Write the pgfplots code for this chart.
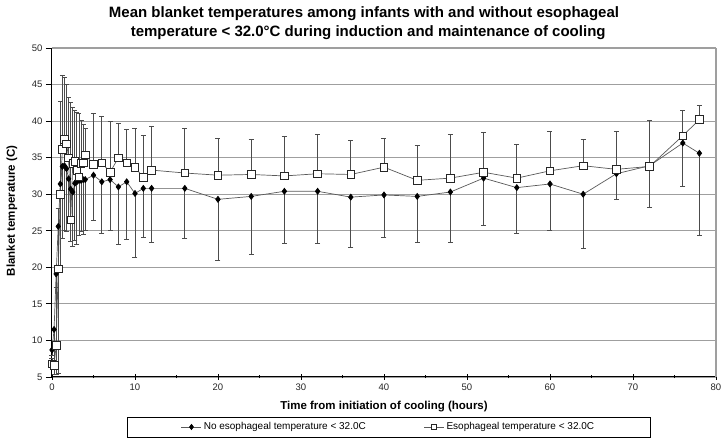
\documentclass[border=0pt]{standalone}
\usepackage{pgfplots}
\pgfplotsset{compat=1.18}
\usepackage{pgfplotstable}
\usepackage{fontspec}
\setmainfont{Liberation Sans}

% No esophageal temperature < 32.0C : mean and minus error
\pgfplotstableread{
t m e
0 8.7 0.7
0.25 11.5 6.2
0.5 19.1 13.8
0.75 25.6 20.1
1 31.4 11.9
1.25 33.8 9.8
1.5 33.9 8.9
1.75 33.5 8.6
2 32.1 6.1
2.25 30.7 7.2
2.5 30.3 7.4
2.75 31.5 7.8
3 31.7 8.5
3.25 31.9 7.6
3.5 31.9 7.0
3.75 32.0 7.5
4 32.0 7.0
5 32.6 6.2
6 31.7 7.1
7 32.0 7.0
8 31.0 7.9
9 31.7 7.9
10 30.1 8.7
11 30.8 6.7
12 30.8 7.4
16 30.8 6.8
20 29.3 8.4
24 29.7 7.9
28 30.4 7.1
32 30.4 7.1
36 29.6 6.9
40 29.9 5.8
44 29.7 6.3
48 30.3 6.9
52 32.2 6.4
56 30.9 6.3
60 31.4 6.3
64 30.0 7.4
68 32.8 3.5
72 33.9 5.7
76 37.0 5.9
78 35.6 11.2
}\noeso

% Esophageal temperature < 32.0C : mean and plus error
\pgfplotstableread{
t m e
0 6.8 0.7
0.25 6.6 2.4
0.5 9.3 8.0
0.75 19.8 8.2
1 30.0 12.7
1.25 36.1 10.2
1.5 37.5 8.5
1.75 36.9 8.1
2 35.0 8.2
2.25 26.5 16.1
2.5 34.2 7.7
2.75 34.5 7.0
3 33.3 7.9
3.25 32.4 8.6
3.5 34.2 5.9
3.75 34.3 5.2
4 35.4 3.6
5 34.1 6.9
6 34.3 6.4
7 33.0 6.9
8 35.0 4.7
9 34.3 4.6
10 33.7 5.3
11 32.3 5.8
12 33.3 6.0
16 32.9 6.1
20 32.6 5.0
24 32.7 4.8
28 32.5 5.4
32 32.8 5.4
36 32.7 4.7
40 33.7 3.9
44 31.9 4.8
48 32.2 6.0
52 33.0 5.4
56 32.2 4.6
60 33.2 5.4
64 33.9 3.6
68 33.4 5.2
72 33.8 6.3
76 38.0 3.5
78 40.2 1.9
}\eso

\begin{document}
\begin{tikzpicture}
\path[use as bounding box] (0,0) rectangle (724pt,443pt);
\node[align=center, font=\bfseries\fontsize{15}{19}\selectfont] at (364pt,419.5pt)
  {Mean blanket temperatures among infants with and without esophageal\\
   \ \ temperature < 32.0°C during induction and maintenance of cooling};
\begin{axis}[
  at={(52pt,66pt)}, anchor=south west,
  scale only axis, width=664pt, height=329pt,
  xmin=0, xmax=80, ymin=5, ymax=50,
  axis x line*=bottom, axis y line*=left,
  axis line style={black, line width=1pt},
  xtick={0,10,...,80}, minor xtick={5,15,...,75},
  ytick={5,10,...,50},
  x tick style={black, line width=0.8pt},
  y tick style={black, line width=0.8pt},
  xtick align=center, ytick align=outside,
  major tick length=6pt, minor tick length=3pt,
  tick label style={font=\fontsize{9.5}{10}\selectfont, text=black!85},
  /pgf/number format/assume math mode=true,
  ymajorgrids,
  major grid style={gray!75, line width=1.1pt},
  xlabel={Time from initiation of cooling (hours)},
  ylabel={Blanket temperature (C)},
  every axis x label/.style={at={(axis description cs:0.5,0)}, anchor=center, yshift=-30pt,
    font=\bfseries\fontsize{11.5}{13}\selectfont},
  every axis y label/.style={at={(axis description cs:0,0.505)}, rotate=90, anchor=center, yshift=40pt,
    font=\bfseries\fontsize{11.5}{13}\selectfont},
  legend columns=2,
  legend style={at={(axis description cs:0.507,-0.121)}, anchor=north,
    draw=black, line width=0.6pt, inner xsep=54pt, inner ysep=3.5pt,
    font=\fontsize{10}{12}\selectfont,
    /tikz/every even column/.style={column sep=56pt}},
  legend image code/.code={\draw[mark repeat=2,mark phase=2,mark size=2.6pt] plot coordinates {(0pt,0pt)(10pt,0pt)(20pt,0pt)};},
  clip=false,
]
\draw[gray!75, line width=1.1pt] (rel axis cs:1,0) -- (rel axis cs:1,1);
\addplot[color=black!65, line width=0.7pt, mark=diamond*, mark size=3pt,
  mark options={fill=black, draw=black, solid},
  error bars/.cd, y dir=minus, y explicit,
  error bar style={black!70, line width=0.8pt},
  error mark options={black!70, line width=0.8pt, mark size=2.5pt, rotate=90}]
  table[x=t, y=m, y error=e] {\noeso};
\addlegendentry{No esophageal temperature < 32.0C}
\addplot[color=black!65, line width=0.7pt, mark=square*, mark size=3.8pt,
  mark options={fill=white, draw=black!85, line width=0.7pt, solid},
  error bars/.cd, y dir=plus, y explicit,
  error bar style={black!70, line width=0.8pt},
  error mark options={black!70, line width=0.8pt, mark size=2.5pt, rotate=90}]
  table[x=t, y=m, y error=e] {\eso};
\addlegendentry{Esophageal temperature < 32.0C}
\end{axis}
\end{tikzpicture}
\end{document}
